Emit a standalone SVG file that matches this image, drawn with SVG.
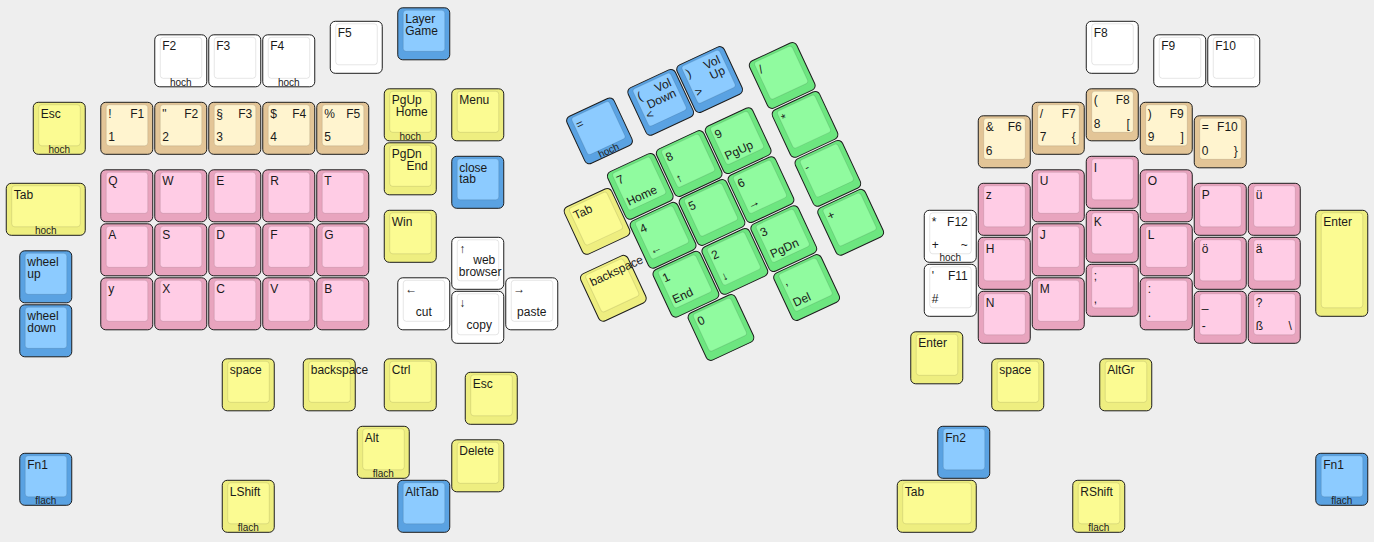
<svg xmlns="http://www.w3.org/2000/svg" width="1374" height="542" viewBox="0 0 1374 542">
<style>
.o{stroke:#1c1c1c;stroke-width:1}
.i{stroke:rgba(0,0,0,0.1);stroke-width:1}
.w .o,.w .i{fill:#ffffff}
.y .o{fill:#eeee80}.y .i{fill:#fbfb92}
.t .o{fill:#e3c597}.t .i{fill:#fff4cf}
.p .o{fill:#e8a4be}.p .i{fill:#ffcce5}
.b .o{fill:#5aa2e2}.b .i{fill:#8ccbff}
.g .o{fill:#6de680}.g .i{fill:#90fb9f}
text{font-family:"Liberation Sans",Arial,sans-serif;font-size:12px;fill:#1a1a1a}
.f{font-size:10px;text-anchor:middle;fill:#222}
.r{text-anchor:end}
.c{text-anchor:middle}
</style>
<defs>
<rect id="O" x="0.5" y="0.5" width="52" height="52" rx="5"/>
<rect id="I" x="6" y="3" width="41.5" height="41" rx="3"/>
<rect id="OW" x="0.5" y="0.5" width="79" height="52" rx="5"/>
<rect id="IW" x="6" y="3" width="68.5" height="41" rx="3"/>
<rect id="OT" x="0.5" y="0.5" width="52" height="106" rx="5"/>
<rect id="IT" x="6" y="3" width="41.5" height="95" rx="3"/>
</defs>
<rect width="1374" height="542" fill="#eeeeee"/>
<g id="connectors"/>

<!-- left half -->
<g id="k-f2" class="w" transform="translate(154.25,34.3)"><use class="o" href="#O"/><use class="i" href="#I"/><text x="8" y="16">F2</text><text class="f" x="26.5" y="51.5">hoch</text></g>
<g id="k-f3" class="w" transform="translate(208.25,34.3)"><use class="o" href="#O"/><use class="i" href="#I"/><text x="8" y="16">F3</text></g>
<g id="k-f4" class="w" transform="translate(262.25,34.3)"><use class="o" href="#O"/><use class="i" href="#I"/><text x="8" y="16">F4</text><text class="f" x="26.5" y="51.5">hoch</text></g>
<g id="k-f5" class="w" transform="translate(329.75,20.8)"><use class="o" href="#O"/><use class="i" href="#I"/><text x="8" y="16">F5</text></g>
<g id="k-layer" class="b" transform="translate(397.25,7.3)"><use class="o" href="#O"/><use class="i" href="#I"/><text x="8" y="16">Layer</text><text x="8" y="27.7">Game</text></g>
<g id="k-esc" class="y" transform="translate(32.75,101.8)"><use class="o" href="#O"/><use class="i" href="#I"/><text x="8" y="16">Esc</text><text class="f" x="26.5" y="51.5">hoch</text></g>
<g id="k-n1" class="t" transform="translate(100.25,101.8)"><use class="o" href="#O"/><use class="i" href="#I"/><text x="8" y="16">!</text><text class="r" x="44" y="16">F1</text><text x="8" y="39.5">1</text></g>
<g id="k-n2" class="t" transform="translate(154.25,101.8)"><use class="o" href="#O"/><use class="i" href="#I"/><text x="8" y="16">"</text><text class="r" x="44" y="16">F2</text><text x="8" y="39.5">2</text></g>
<g id="k-n3" class="t" transform="translate(208.25,101.8)"><use class="o" href="#O"/><use class="i" href="#I"/><text x="8" y="16">§</text><text class="r" x="44" y="16">F3</text><text x="8" y="39.5">3</text></g>
<g id="k-n4" class="t" transform="translate(262.25,101.8)"><use class="o" href="#O"/><use class="i" href="#I"/><text x="8" y="16">$</text><text class="r" x="44" y="16">F4</text><text x="8" y="39.5">4</text></g>
<g id="k-n5" class="t" transform="translate(316.25,101.8)"><use class="o" href="#O"/><use class="i" href="#I"/><text x="8" y="16">%</text><text class="r" x="44" y="16">F5</text><text x="8" y="39.5">5</text></g>
<g id="k-pgup" class="y" transform="translate(383.75,88.3)"><use class="o" href="#O"/><use class="i" href="#I"/><text x="8" y="16">PgUp</text><text class="r" x="44" y="27.7">Home</text><text class="f" x="26.5" y="51.5">hoch</text></g>
<g id="k-menu" class="y" transform="translate(451.25,88.3)"><use class="o" href="#O"/><use class="i" href="#I"/><text x="8" y="16">Menu</text></g>
<g id="k-pgdn" class="y" transform="translate(383.75,142.3)"><use class="o" href="#O"/><use class="i" href="#I"/><text x="8" y="16">PgDn</text><text class="r" x="44" y="27.7">End</text></g>
<g id="k-closetab" class="b" transform="translate(451.25,155.8)"><use class="o" href="#O"/><use class="i" href="#I"/><text x="8" y="16">close</text><text x="8" y="27.7">tab</text></g>
<g id="k-tab" class="y" transform="translate(5.75,182.8)"><use class="o" href="#OW"/><use class="i" href="#IW"/><text x="8" y="16">Tab</text><text class="f" x="40" y="51.5">hoch</text></g>
<g id="k-q" class="p" transform="translate(100.25,169.3)"><use class="o" href="#O"/><use class="i" href="#I"/><text x="8" y="16">Q</text></g>
<g id="k-w" class="p" transform="translate(154.25,169.3)"><use class="o" href="#O"/><use class="i" href="#I"/><text x="8" y="16">W</text></g>
<g id="k-e" class="p" transform="translate(208.25,169.3)"><use class="o" href="#O"/><use class="i" href="#I"/><text x="8" y="16">E</text></g>
<g id="k-r" class="p" transform="translate(262.25,169.3)"><use class="o" href="#O"/><use class="i" href="#I"/><text x="8" y="16">R</text></g>
<g id="k-t" class="p" transform="translate(316.25,169.3)"><use class="o" href="#O"/><use class="i" href="#I"/><text x="8" y="16">T</text></g>
<g id="k-a" class="p" transform="translate(100.25,223.3)"><use class="o" href="#O"/><use class="i" href="#I"/><text x="8" y="16">A</text></g>
<g id="k-s" class="p" transform="translate(154.25,223.3)"><use class="o" href="#O"/><use class="i" href="#I"/><text x="8" y="16">S</text></g>
<g id="k-d" class="p" transform="translate(208.25,223.3)"><use class="o" href="#O"/><use class="i" href="#I"/><text x="8" y="16">D</text></g>
<g id="k-f" class="p" transform="translate(262.25,223.3)"><use class="o" href="#O"/><use class="i" href="#I"/><text x="8" y="16">F</text></g>
<g id="k-g" class="p" transform="translate(316.25,223.3)"><use class="o" href="#O"/><use class="i" href="#I"/><text x="8" y="16">G</text></g>
<g id="k-y" class="p" transform="translate(100.25,277.3)"><use class="o" href="#O"/><use class="i" href="#I"/><text x="8" y="16">y</text></g>
<g id="k-x" class="p" transform="translate(154.25,277.3)"><use class="o" href="#O"/><use class="i" href="#I"/><text x="8" y="16">X</text></g>
<g id="k-c" class="p" transform="translate(208.25,277.3)"><use class="o" href="#O"/><use class="i" href="#I"/><text x="8" y="16">C</text></g>
<g id="k-v" class="p" transform="translate(262.25,277.3)"><use class="o" href="#O"/><use class="i" href="#I"/><text x="8" y="16">V</text></g>
<g id="k-b" class="p" transform="translate(316.25,277.3)"><use class="o" href="#O"/><use class="i" href="#I"/><text x="8" y="16">B</text></g>
<g id="k-wheelup" class="b" transform="translate(19.25,250.3)"><use class="o" href="#O"/><use class="i" href="#I"/><text x="8" y="16">wheel</text><text x="8" y="27.7">up</text></g>
<g id="k-wheeldown" class="b" transform="translate(19.25,304.3)"><use class="o" href="#O"/><use class="i" href="#I"/><text x="8" y="16">wheel</text><text x="8" y="27.7">down</text></g>
<g id="k-win" class="y" transform="translate(383.75,209.8)"><use class="o" href="#O"/><use class="i" href="#I"/><text x="8" y="16">Win</text></g>
<g id="k-web" class="w" transform="translate(451.25,236.8)"><use class="o" href="#O"/><use class="i" href="#I"/><text x="8" y="16">↑</text><text class="r" x="44" y="27.7">web</text><text x="7.5" y="39.4">browser</text></g>
<g id="k-cut" class="w" transform="translate(397.25,277.3)"><use class="o" href="#O"/><use class="i" href="#I"/><text x="8" y="16">←</text><text class="c" x="26.5" y="38.7">cut</text></g>
<g id="k-copy" class="w" transform="translate(451.25,290.8)"><use class="o" href="#O"/><use class="i" href="#I"/><text x="8" y="16">↓</text><text class="c" x="28" y="38.5">copy</text></g>
<g id="k-paste" class="w" transform="translate(505.25,277.3)"><use class="o" href="#O"/><use class="i" href="#I"/><text x="8" y="16">→</text><text class="c" x="26.5" y="38.7">paste</text></g>
<g id="k-space-l" class="y" transform="translate(221.75,358.3)"><use class="o" href="#O"/><use class="i" href="#I"/><text x="8" y="16">space</text></g>
<g id="k-bksp-l" class="y" transform="translate(302.75,358.3)"><use class="o" href="#O"/><use class="i" href="#I"/><text x="8" y="16">backspace</text></g>
<g id="k-ctrl" class="y" transform="translate(383.75,358.3)"><use class="o" href="#O"/><use class="i" href="#I"/><text x="8" y="16">Ctrl</text></g>
<g id="k-esc2" class="y" transform="translate(464.75,371.8)"><use class="o" href="#O"/><use class="i" href="#I"/><text x="8" y="16">Esc</text></g>
<g id="k-alt" class="y" transform="translate(356.75,425.8)"><use class="o" href="#O"/><use class="i" href="#I"/><text x="8" y="16">Alt</text><text class="f" x="26.5" y="51.5">flach</text></g>
<g id="k-delete" class="y" transform="translate(451.25,439.3)"><use class="o" href="#O"/><use class="i" href="#I"/><text x="8" y="16">Delete</text></g>
<g id="k-fn1-l" class="b" transform="translate(19.25,452.8)"><use class="o" href="#O"/><use class="i" href="#I"/><text x="8" y="16">Fn1</text><text class="f" x="26.5" y="51.5">flach</text></g>
<g id="k-lshift" class="y" transform="translate(221.75,479.8)"><use class="o" href="#O"/><use class="i" href="#I"/><text x="8" y="16">LShift</text><text class="f" x="26.5" y="51.5">flach</text></g>
<g id="k-alttab" class="b" transform="translate(397.25,479.8)"><use class="o" href="#O"/><use class="i" href="#I"/><text x="8" y="16">AltTab</text></g>

<!-- rotated numpad cluster -->
<g id="numpad" transform="translate(712.7,212.7) rotate(-25)">
<g id="k-eq" class="b" transform="translate(-94.5,-148.5)"><use class="o" href="#O"/><use class="i" href="#I"/><text x="8" y="16">=</text><text class="f" x="26.5" y="51.5">hoch</text></g>
<g id="k-voldown" class="b" transform="translate(-27,-148.5)"><use class="o" href="#O"/><use class="i" href="#I"/><text x="8" y="16">(</text><text class="r" x="44" y="16">Vol</text><text class="r" x="44" y="27.7">Down</text><text x="8" y="37">&lt;</text></g>
<g id="k-volup" class="b" transform="translate(27,-148.5)"><use class="o" href="#O"/><use class="i" href="#I"/><text x="8" y="16">)</text><text class="r" x="44" y="16">Vol</text><text class="r" x="44" y="27.7">Up</text><text x="8" y="37">&gt;</text></g>
<g id="k-slash" class="g" transform="translate(94.5,-121.5)"><use class="o" href="#O"/><use class="i" href="#I"/><text x="8" y="16">/</text></g>
<g id="k-star" class="g" transform="translate(94.5,-67.5)"><use class="o" href="#O"/><use class="i" href="#I"/><text x="8" y="16">*</text></g>
<g id="k-minus" class="g" transform="translate(94.5,-13.5)"><use class="o" href="#O"/><use class="i" href="#I"/><text x="8" y="16">-</text></g>
<g id="k-plus" class="g" transform="translate(94.5,40.5)"><use class="o" href="#O"/><use class="i" href="#I"/><text x="8" y="16">+</text></g>
<g id="k-tab-np" class="y" transform="translate(-135,-67.5)"><use class="o" href="#O"/><use class="i" href="#I"/><text x="8" y="16">Tab</text></g>
<g id="k-7" class="g" transform="translate(-81,-81)"><use class="o" href="#O"/><use class="i" href="#I"/><text x="8" y="16">7</text><text x="8" y="39.5">Home</text></g>
<g id="k-8" class="g" transform="translate(-27,-81)"><use class="o" href="#O"/><use class="i" href="#I"/><text x="8" y="16">8</text><text x="8" y="39.5">↑</text></g>
<g id="k-9" class="g" transform="translate(27,-81)"><use class="o" href="#O"/><use class="i" href="#I"/><text x="8" y="16">9</text><text x="8" y="39.5">PgUp</text></g>
<g id="k-4" class="g" transform="translate(-81,-27)"><use class="o" href="#O"/><use class="i" href="#I"/><text x="8" y="16">4</text><text x="8" y="39.5">←</text></g>
<g id="k-5" class="g" transform="translate(-27,-27)"><use class="o" href="#O"/><use class="i" href="#I"/><text x="8" y="16">5</text></g>
<g id="k-6" class="g" transform="translate(27,-27)"><use class="o" href="#O"/><use class="i" href="#I"/><text x="8" y="16">6</text><text x="8" y="39.5">→</text></g>
<g id="k-1" class="g" transform="translate(-81,27)"><use class="o" href="#O"/><use class="i" href="#I"/><text x="8" y="16">1</text><text x="8" y="39.5">End</text></g>
<g id="k-2" class="g" transform="translate(-27,27)"><use class="o" href="#O"/><use class="i" href="#I"/><text x="8" y="16">2</text><text x="8" y="39.5">↓</text></g>
<g id="k-3" class="g" transform="translate(27,27)"><use class="o" href="#O"/><use class="i" href="#I"/><text x="8" y="16">3</text><text x="8" y="39.5">PgDn</text></g>
<g id="k-0" class="g" transform="translate(-67.5,81)"><use class="o" href="#O"/><use class="i" href="#I"/><text x="8" y="16">0</text></g>
<g id="k-del" class="g" transform="translate(27,81)"><use class="o" href="#O"/><use class="i" href="#I"/><text x="8" y="16">,</text><text x="8" y="39.5">Del</text></g>
<g id="k-bksp-np" class="y" transform="translate(-148.5,0)"><use class="o" href="#O"/><use class="i" href="#I"/><text x="8" y="16">backspace</text></g>
</g>

<!-- right half -->
<g id="k-f8" class="w" transform="translate(1085.75,20.8)"><use class="o" href="#O"/><use class="i" href="#I"/><text x="8" y="16">F8</text></g>
<g id="k-f9" class="w" transform="translate(1153.25,34.3)"><use class="o" href="#O"/><use class="i" href="#I"/><text x="8" y="16">F9</text></g>
<g id="k-f10" class="w" transform="translate(1207.25,34.3)"><use class="o" href="#O"/><use class="i" href="#I"/><text x="8" y="16">F10</text></g>
<g id="k-n6" class="t" transform="translate(977.75,115.3)"><use class="o" href="#O"/><use class="i" href="#I"/><text x="8" y="16">&amp;</text><text class="r" x="44" y="16">F6</text><text x="8" y="39.5">6</text></g>
<g id="k-n7" class="t" transform="translate(1031.75,101.8)"><use class="o" href="#O"/><use class="i" href="#I"/><text x="8" y="16">/</text><text class="r" x="44" y="16">F7</text><text x="8" y="39.5">7</text><text class="r" x="44" y="39.5">{</text></g>
<g id="k-n8" class="t" transform="translate(1085.75,88.3)"><use class="o" href="#O"/><use class="i" href="#I"/><text x="8" y="16">(</text><text class="r" x="44" y="16">F8</text><text x="8" y="39.5">8</text><text class="r" x="44" y="39.5">[</text></g>
<g id="k-n9" class="t" transform="translate(1139.75,101.8)"><use class="o" href="#O"/><use class="i" href="#I"/><text x="8" y="16">)</text><text class="r" x="44" y="16">F9</text><text x="8" y="39.5">9</text><text class="r" x="44" y="39.5">]</text></g>
<g id="k-n0" class="t" transform="translate(1193.75,115.3)"><use class="o" href="#O"/><use class="i" href="#I"/><text x="8" y="16">=</text><text class="r" x="44" y="16">F10</text><text x="8" y="39.5">0</text><text class="r" x="44" y="39.5">}</text></g>
<g id="k-z" class="p" transform="translate(977.75,182.8)"><use class="o" href="#O"/><use class="i" href="#I"/><text x="8" y="16">z</text></g>
<g id="k-h" class="p" transform="translate(977.75,236.8)"><use class="o" href="#O"/><use class="i" href="#I"/><text x="8" y="16">H</text></g>
<g id="k-n" class="p" transform="translate(977.75,290.8)"><use class="o" href="#O"/><use class="i" href="#I"/><text x="8" y="16">N</text></g>
<g id="k-u" class="p" transform="translate(1031.75,169.3)"><use class="o" href="#O"/><use class="i" href="#I"/><text x="8" y="16">U</text></g>
<g id="k-j" class="p" transform="translate(1031.75,223.3)"><use class="o" href="#O"/><use class="i" href="#I"/><text x="8" y="16">J</text></g>
<g id="k-m" class="p" transform="translate(1031.75,277.3)"><use class="o" href="#O"/><use class="i" href="#I"/><text x="8" y="16">M</text></g>
<g id="k-i" class="p" transform="translate(1085.75,155.8)"><use class="o" href="#O"/><use class="i" href="#I"/><text x="8" y="16">I</text></g>
<g id="k-k" class="p" transform="translate(1085.75,209.8)"><use class="o" href="#O"/><use class="i" href="#I"/><text x="8" y="16">K</text></g>
<g id="k-comma" class="p" transform="translate(1085.75,263.8)"><use class="o" href="#O"/><use class="i" href="#I"/><text x="8" y="16">;</text><text x="8" y="39.5">,</text></g>
<g id="k-o" class="p" transform="translate(1139.75,169.3)"><use class="o" href="#O"/><use class="i" href="#I"/><text x="8" y="16">O</text></g>
<g id="k-l" class="p" transform="translate(1139.75,223.3)"><use class="o" href="#O"/><use class="i" href="#I"/><text x="8" y="16">L</text></g>
<g id="k-period" class="p" transform="translate(1139.75,277.3)"><use class="o" href="#O"/><use class="i" href="#I"/><text x="8" y="16">:</text><text x="8" y="39.5">.</text></g>
<g id="k-p" class="p" transform="translate(1193.75,182.8)"><use class="o" href="#O"/><use class="i" href="#I"/><text x="8" y="16">P</text></g>
<g id="k-oe" class="p" transform="translate(1193.75,236.8)"><use class="o" href="#O"/><use class="i" href="#I"/><text x="8" y="16">ö</text></g>
<g id="k-dash" class="p" transform="translate(1193.75,290.8)"><use class="o" href="#O"/><use class="i" href="#I"/><text x="8" y="16">_</text><text x="8" y="39.5">-</text></g>
<g id="k-ue" class="p" transform="translate(1247.75,182.8)"><use class="o" href="#O"/><use class="i" href="#I"/><text x="8" y="16">ü</text></g>
<g id="k-ae" class="p" transform="translate(1247.75,236.8)"><use class="o" href="#O"/><use class="i" href="#I"/><text x="8" y="16">ä</text></g>
<g id="k-sz" class="p" transform="translate(1247.75,290.8)"><use class="o" href="#O"/><use class="i" href="#I"/><text x="8" y="16">?</text><text x="8" y="39.5">ß</text><text class="r" x="44" y="39.5">\</text></g>
<g id="k-f12" class="w" transform="translate(923.75,209.8)"><use class="o" href="#O"/><use class="i" href="#I"/><text x="8" y="16">*</text><text class="r" x="44" y="16">F12</text><text x="8" y="39.5">+</text><text class="r" x="44" y="39.5">~</text><text class="f" x="26.5" y="51.5">hoch</text></g>
<g id="k-f11" class="w" transform="translate(923.75,263.8)"><use class="o" href="#O"/><use class="i" href="#I"/><text x="8" y="16">'</text><text class="r" x="44" y="16">F11</text><text x="8" y="39.5">#</text></g>
<g id="k-enter-big" class="y" transform="translate(1315.25,209.8)"><use class="o" href="#OT"/><use class="i" href="#IT"/><text x="8" y="16">Enter</text></g>
<g id="k-enter-r" class="y" transform="translate(910.25,331.3)"><use class="o" href="#O"/><use class="i" href="#I"/><text x="8" y="16">Enter</text></g>
<g id="k-space-r" class="y" transform="translate(991.25,358.3)"><use class="o" href="#O"/><use class="i" href="#I"/><text x="8" y="16">space</text></g>
<g id="k-altgr" class="y" transform="translate(1099.25,358.3)"><use class="o" href="#O"/><use class="i" href="#I"/><text x="8" y="16">AltGr</text></g>
<g id="k-fn2" class="b" transform="translate(937.25,425.8)"><use class="o" href="#O"/><use class="i" href="#I"/><text x="8" y="16">Fn2</text></g>
<g id="k-tab-r" class="y" transform="translate(896.75,479.8)"><use class="o" href="#OW"/><use class="i" href="#IW"/><text x="8" y="16">Tab</text></g>
<g id="k-rshift" class="y" transform="translate(1072.25,479.8)"><use class="o" href="#O"/><use class="i" href="#I"/><text x="8" y="16">RShift</text><text class="f" x="26.5" y="51.5">flach</text></g>
<g id="k-fn1-r" class="b" transform="translate(1315.25,452.8)"><use class="o" href="#O"/><use class="i" href="#I"/><text x="8" y="16">Fn1</text><text class="f" x="26.5" y="51.5">flach</text></g>
</svg>
